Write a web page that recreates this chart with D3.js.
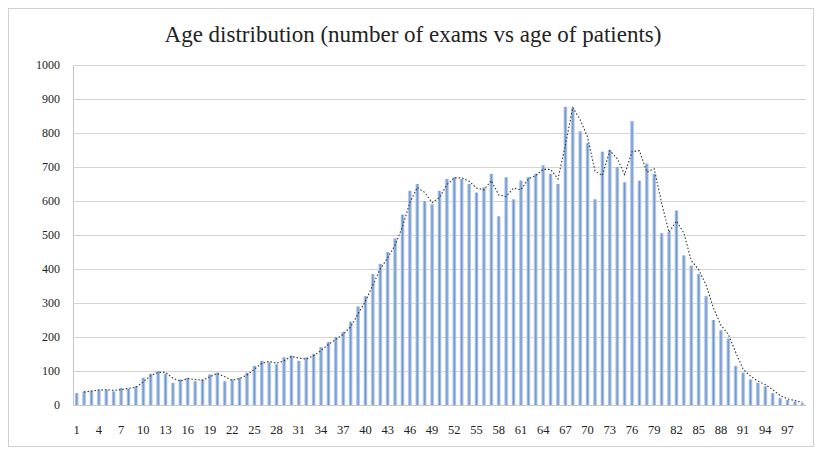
<!DOCTYPE html>
<html><head><meta charset="utf-8">
<script src="https://cdn.jsdelivr.net/npm/d3@7"></script>
<style>body{margin:0;background:#fff}svg{display:block}</style>
</head><body>
<svg id="c" width="823" height="454"></svg>
<script>
const ages = d3.range(1, 100);
const examCounts = [35,40,42,45,45,40,50,48,55,80,92,100,92,65,75,80,70,75,90,95,70,75,80,95,115,130,125,120,140,145,130,140,150,170,185,200,215,245,290,320,385,415,450,490,560,630,650,600,590,630,665,670,665,650,625,640,680,555,670,605,660,670,680,705,680,650,877,873,805,770,605,745,750,700,655,835,660,710,680,505,510,572,440,410,385,320,250,220,195,115,95,75,65,55,35,20,15,10,5];
// dotted trend line values (ages 2..99)
const trendValues = [null,38,41,44,45,43,45,49,52,68,86,96,96,79,70,78,75,73,83,93,83,73,78,88,105,123,128,123,130,143,138,135,145,160,178,193,208,230,268,305,353,400,433,470,525,595,640,625,595,610,648,668,668,658,638,633,660,618,613,638,633,665,675,693,693,665,764,875,839,788,688,675,748,725,678,745,748,685,695,593,508,541,506,425,398,353,285,235,208,155,105,85,70,60,45,28,18,13,8];
const yTicks = [0,100,200,300,400,500,600,700,800,900,1000];
const xTickAges = d3.range(1, 98, 3);
const title = "Age distribution (number of exams vs age of patients)";

const svg = d3.select("#c");
const m = {l:73, r:806, t:65, b:405};
const x = d3.scaleBand().domain(ages).range([m.l, m.r]).paddingInner(0.45).paddingOuter(0.22);
const y = d3.scaleLinear().domain([0,1000]).range([m.b, m.t]);

// frame
svg.append("rect").attr("x",8.5).attr("y",8.5).attr("width",805).attr("height",438)
  .attr("fill","#fff").attr("stroke","#d0d0d0");

const defs = svg.append("defs");
const g = defs.append("linearGradient").attr("id","bg").attr("x1","0").attr("x2","1").attr("y1","0").attr("y2","0");
g.append("stop").attr("offset","0").attr("stop-color","#d6e3f4");
g.append("stop").attr("offset","0.5").attr("stop-color","#6b93cf");
g.append("stop").attr("offset","1").attr("stop-color","#d6e3f4");

// grid
svg.append("g").selectAll("line").data(yTicks.filter(d=>d>0)).join("line")
  .attr("x1",m.l).attr("x2",m.r).attr("y1",d=>Math.round(y(d))+0.5).attr("y2",d=>Math.round(y(d))+0.5)
  .attr("stroke","#d4d4d4").attr("stroke-width",1);

// y axis
const ya = svg.append("g").attr("transform",`translate(${m.l},0)`)
  .call(d3.axisLeft(y).tickValues(yTicks).tickFormat(d3.format("d")).tickSize(0).tickPadding(13));
ya.select(".domain").attr("stroke","#c8c8c8");
ya.selectAll("text").attr("font-family","Liberation Serif, serif").attr("font-size","12px").attr("fill","#222");

// bars
svg.append("g").selectAll("rect").data(ages).join("rect")
  .attr("x",d=>x(d)).attr("width",x.bandwidth())
  .attr("y",(d,i)=>y(examCounts[i])).attr("height",(d,i)=>m.b - y(examCounts[i]))
  .attr("fill","url(#bg)");

// x axis
const xa = svg.append("g").attr("transform",`translate(0,${m.b})`)
  .call(d3.axisBottom(x).tickValues(xTickAges).tickSize(0).tickPadding(20));
xa.select(".domain").attr("stroke","#c8c8c8");
xa.selectAll("text").attr("font-family","Liberation Serif, serif").attr("font-size","12.5px").attr("fill","#222");

// trend line
const line = d3.line().defined(d=>d[1]!=null)
  .x(d=>x(d[0])+x.bandwidth()/2).y(d=>y(d[1]));
svg.append("path").datum(ages.map((a,i)=>[a,trendValues[i]]))
  .attr("d",line).attr("fill","none").attr("stroke","#333").attr("stroke-width",1.1)
  .attr("stroke-dasharray","1.5,2");

// title
svg.append("text").attr("x",413).attr("y",42).attr("text-anchor","middle")
  .attr("font-family","Liberation Serif, serif").attr("font-size","23px").attr("fill","#222")
  .text(title);
</script>
</body></html>
